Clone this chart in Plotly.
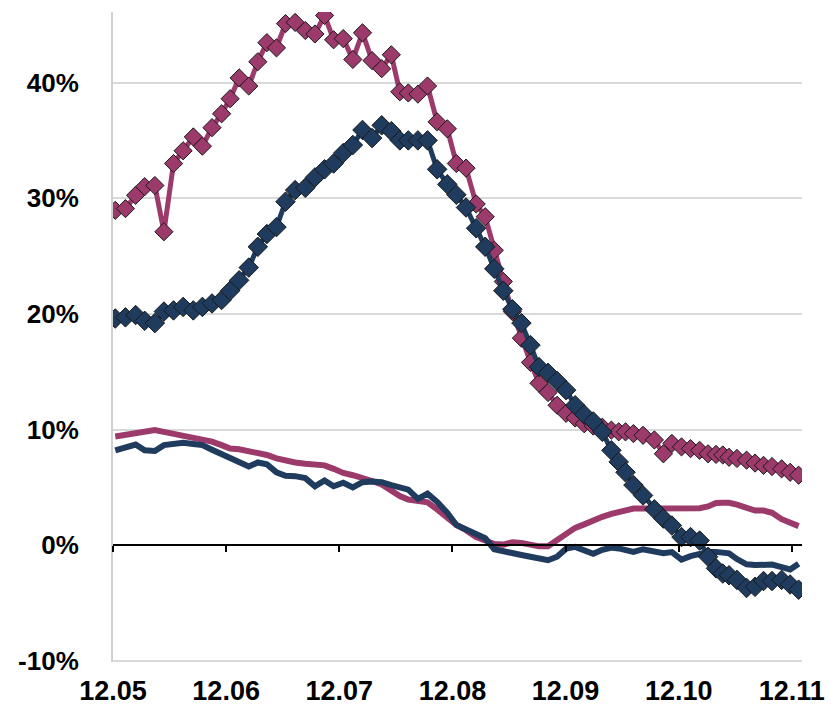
import plotly.graph_objects as go

# Time axis in months since 2012-05 (one entry per observation)
t_month = [
    0.02, 0.11, 0.20, 0.28, 0.37, 0.45, 0.535, 0.62, 0.71, 0.79,
    0.875, 0.96, 1.035, 1.115, 1.20, 1.28, 1.36, 1.445, 1.525, 1.61,
    1.70, 1.785, 1.87, 1.95, 2.035, 2.12, 2.205, 2.29, 2.375, 2.46,
    2.535, 2.61, 2.695, 2.78, 2.865, 2.955, 3.035, 3.12, 3.21, 3.29,
    3.37, 3.45, 3.53, 3.61, 3.69, 3.765, 3.845, 3.925, 4.005, 4.085,
    4.165, 4.245, 4.325, 4.405, 4.47, 4.53, 4.60, 4.685, 4.785, 4.865,
    4.94, 5.025, 5.105, 5.185, 5.26, 5.33, 5.39, 5.445, 5.515, 5.60,
    5.675, 5.75, 5.825, 5.91, 5.985, 6.06,
]

# Series with diamond markers (%)
pink_marked = [
    28.95, 29.1, 30.25, 31.0, 31.1, 27.1, 33.0, 34.1, 35.3, 34.5,
    36.1, 37.3, 38.6, 40.4, 39.7, 41.8, 43.45, 43.0, 45.1, 45.2,
    44.5, 44.2, 45.8, 43.7, 43.8, 42.0, 44.3, 41.9, 41.2, 42.4,
    39.2, 39.1, 39.0, 39.7, 36.6, 36.0, 33.0, 32.6, 29.5, 28.4,
    25.5, 22.8, 20.2, 17.9, 15.8, 14.0, 13.2, 12.1, 11.4, 11.0,
    10.5, 10.3, 10.2, 9.95, 9.8, 9.8, 9.65, 9.5, 9.1, 7.9,
    8.8, 8.5, 8.35, 8.2, 7.9, 7.85, 7.8, 7.6, 7.5, 7.35,
    7.1, 6.9, 6.8, 6.6, 6.3, 6.05,
]
blue_marked = [
    19.6, 19.7, 19.9, 19.4, 19.2, 20.2, 20.3, 20.6, 20.3, 20.6,
    20.9, 21.2, 22.0, 22.9, 24.0, 25.8, 26.9, 27.5, 29.7, 30.7,
    30.9, 31.8, 32.5, 33.0, 33.9, 34.6, 35.9, 35.2, 36.3, 35.8,
    35.0, 35.0, 35.0, 35.0, 32.5, 31.2, 30.3, 29.2, 27.4, 25.8,
    23.9, 22.0, 20.4, 19.2, 17.3, 15.4, 14.9, 14.2, 13.4, 12.1,
    11.3, 10.7, 9.8, 8.2, 7.2, 6.3, 5.2, 4.3, 3.1, 2.3,
    1.7, 0.7, 0.7, 0.4, -1.0, -2.0, -2.45, -2.6, -3.0, -3.7,
    -3.6, -3.1, -3.1, -3.0, -3.4, -3.85,
]

# Plain line series (%)
pink_line = [
    9.4, 9.55, 9.7, 9.8, 9.95, 9.8, 9.65, 9.45, 9.3, 9.2,
    8.95, 8.65, 8.35, 8.3, 8.15, 8.0, 7.8, 7.5, 7.3, 7.15,
    7.05, 7.0, 6.9, 6.6, 6.25, 6.05, 5.85, 5.55, 5.25, 4.65,
    4.25, 3.95, 3.8, 3.7, 3.1, 2.45, 1.75, 1.3, 0.7, 0.4,
    0.1, 0.05, 0.25, 0.2, 0.0, -0.1, -0.1, 0.4, 1.0, 1.5,
    1.8, 2.15, 2.45, 2.7, 2.85, 3.05, 3.17, 3.17, 3.17, 3.17,
    3.25, 3.3, 3.3, 3.2, 3.35, 3.65, 3.66, 3.66, 3.5, 3.2,
    3.0, 3.0, 2.8, 2.25, 2.0, 1.65,
]
blue_line = [
    8.2, 8.5, 8.7, 8.2, 8.15, 8.65, 8.8, 8.85, 8.75, 8.65,
    8.25, 7.9, 7.6, 7.25, 6.8, 7.15, 7.0, 6.3, 6.0, 5.97,
    5.8, 5.1, 5.6, 5.1, 5.4, 5.0, 5.45, 5.5, 5.45, 5.2,
    5.0, 4.8, 4.0, 4.45, 3.75, 2.8, 1.75, 1.35, 0.95, 0.6,
    -0.35, -0.55, -0.72, -0.85, -1.0, -1.15, -1.3, -1.0, -0.3, -0.15,
    -0.45, -0.75, -0.4, -0.2, -0.28, -0.4, -0.58, -0.35, -0.55, -0.7,
    -0.6, -1.25, -0.95, -0.7, -0.58, -0.58, -0.62, -0.7, -1.2, -1.65,
    -1.72, -1.68, -1.68, -1.9, -2.1, -1.6,
]

month_ticks = [0, 1, 2, 3, 4, 5, 6]
month_labels = ["12.05", "12.06", "12.07", "12.08", "12.09", "12.10", "12.11"]
pct_ticks = [-10, 0, 10, 20, 30, 40]
pct_labels = ["-10%", "0%", "10%", "20%", "30%", "40%"]

PINK = "#9B3A6B"
BLUE = "#1F3B5E"
EDGE = "#1a1a1a"
X_RANGE = [0, 6.09]
Y_RANGE = [-10.1, 46.1]

fig = go.Figure()
fig.add_trace(go.Scatter(x=t_month, y=pink_line, mode="lines",
                         line=dict(color=PINK, width=6)))
fig.add_trace(go.Scatter(x=t_month, y=blue_line, mode="lines",
                         line=dict(color=BLUE, width=6)))
fig.add_trace(go.Scatter(x=t_month, y=pink_marked, mode="lines+markers",
                         line=dict(color=PINK, width=5),
                         marker=dict(symbol="diamond", size=14, color=PINK,
                                     line=dict(color=EDGE, width=1))))
fig.add_trace(go.Scatter(x=t_month, y=blue_marked, mode="lines+markers",
                         line=dict(color=BLUE, width=5),
                         marker=dict(symbol="diamond", size=15, color=BLUE,
                                     line=dict(color=EDGE, width=1))))

x_font = dict(family="Liberation Sans", size=27, color="#000000", weight="bold")
y_font = dict(family="Liberation Sans", size=26, color="#000000", weight="bold")

fig.update_layout(
    width=837, height=707,
    margin=dict(l=113, r=35, t=12, b=45),
    paper_bgcolor="white", plot_bgcolor="white",
    showlegend=False,
    xaxis=dict(range=X_RANGE, tickvals=month_ticks, ticktext=month_labels,
               showgrid=False, zeroline=False, showline=False, ticks="",
               tickfont=x_font, ticklabelstandoff=10, automargin=False),
    # month axis drawn along the 0% level, with small downward ticks
    xaxis2=dict(range=X_RANGE, overlaying="x", anchor="free",
                position=(0 - Y_RANGE[0]) / (Y_RANGE[1] - Y_RANGE[0]),
                tickvals=month_ticks, showticklabels=False,
                showgrid=False, zeroline=False, automargin=False,
                showline=True, linecolor="#000000", linewidth=1.5,
                ticks="outside", ticklen=6, tickwidth=1.5, tickcolor="#000000"),
    yaxis=dict(range=Y_RANGE, tickvals=pct_ticks, ticktext=pct_labels,
               showgrid=True, gridcolor="#D9D9D9", gridwidth=1.5,
               zeroline=False, showline=True, linecolor="#D0D0D0", linewidth=2,
               ticks="", tickfont=y_font, ticklabelstandoff=27,
               automargin=False),
)
# keep an invisible trace on xaxis2 so that the axis is rendered
fig.add_trace(go.Scatter(x=[X_RANGE[0]], y=[0], xaxis="x2", mode="markers",
                         marker=dict(opacity=0), hoverinfo="skip"))

fig.write_html("out.html")
